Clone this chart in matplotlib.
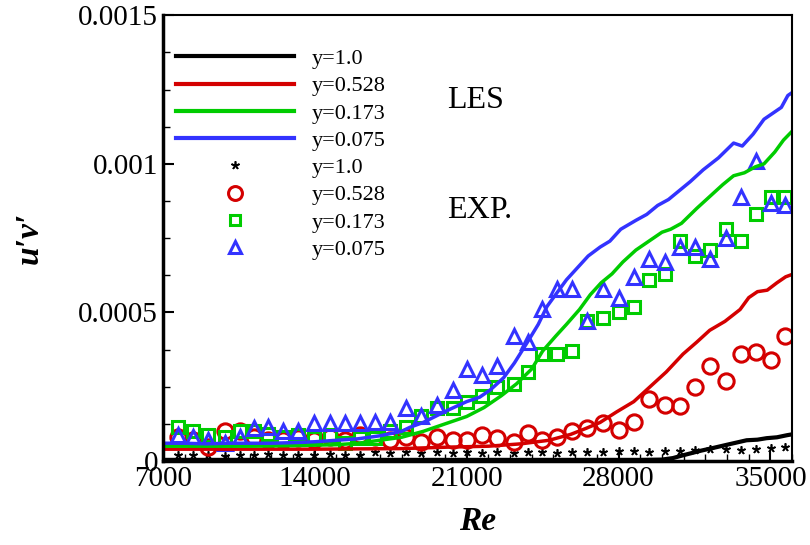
import numpy as np
import matplotlib
matplotlib.use("Agg")
import matplotlib.pyplot as plt
from matplotlib.lines import Line2D
from matplotlib.ticker import MultipleLocator

plt.rcParams['font.family'] = ['Liberation Serif', 'DejaVu Serif']

# LES curves
re_blk = [7000, 12000, 18000, 24000, 29000, 30000, 30500, 31000, 31800, 32350, 33000, 33900, 34400, 34820, 35300, 35760, 36000]
les_blk = [0.000004, 0.000004, 0.000004, 0.000004, 0.000004, 0.000005, 0.00001, 0.00002, 0.000035, 0.000044,
           0.000055, 0.00007, 0.000072, 0.000077, 0.00008, 0.000087, 0.00009]

re_red = [7000, 10000, 14000, 18000, 20200, 22000, 23500, 24800, 25800, 26500, 27150, 27900, 28700, 29450,
          30200, 30970, 31600, 32200, 32900, 33600, 34000, 34400, 34850, 35300, 35700, 36000]
les_red = [0.00004, 0.00004, 0.00004, 0.000042, 0.000047, 0.00005, 0.000058, 0.00007, 0.00009, 0.00011,
           0.00013, 0.000165, 0.0002, 0.00025, 0.0003, 0.00036, 0.0004, 0.00044, 0.00047, 0.00051, 0.00055,
           0.00057, 0.000575, 0.0006, 0.00062, 0.000628]

re_grn = [7000, 9000, 11000, 13000, 15000, 16000, 17000, 18000, 19000, 20200, 21000, 21800, 22600, 23300,
          24000, 24500, 25100, 25600, 26200, 26700, 27200, 27700, 28200, 28800, 29400, 30000, 30400, 30900,
          31600, 32200, 32800, 33300, 33800, 34300, 34700, 35200, 35600, 36000]
les_grn = [0.00005, 0.00005, 0.00005, 0.000052, 0.000055, 0.00006, 0.00007, 0.00008, 0.0001, 0.00013,
           0.00015, 0.00018, 0.00022, 0.00026, 0.00031, 0.00037, 0.00042, 0.00046, 0.00051, 0.00056, 0.0006,
           0.00063, 0.00067, 0.00071, 0.00074, 0.00077, 0.00078, 0.0008, 0.00085, 0.00089, 0.00093, 0.00096,
           0.00097, 0.00099, 0.001, 0.00104, 0.00108, 0.00111]

re_blu = [7000, 8000, 9000, 10000, 11000, 12000, 13000, 14000, 15000, 16000, 17000, 18000, 18400, 19000,
          20100, 21000, 21600, 22100, 22700, 23200, 23800, 24300, 24700, 25200, 25600, 26100, 26600, 27150,
          27600, 28100, 28800, 29300, 29800, 30300, 30800, 31300, 31900, 32600, 33300, 33700, 34200, 34700,
          35100, 35500, 35800, 36000]
les_blu = [0.00006, 0.00006, 0.000058, 0.00006, 0.00006, 0.00006, 0.000062, 0.000065, 0.00007, 0.000075,
           0.000085, 0.0001, 0.000114, 0.00013, 0.00017, 0.0002, 0.000215, 0.00024, 0.00028, 0.00033, 0.0004,
           0.00046, 0.00052, 0.00057, 0.00061, 0.00065, 0.00069, 0.00072, 0.00074, 0.00078, 0.00081, 0.00083,
           0.00086, 0.00088, 0.00091, 0.00094, 0.00098, 0.00102, 0.00107, 0.00106, 0.0011, 0.00115, 0.00117,
           0.00119, 0.00123, 0.00124]

# experiments
re_exp = [7700, 8380, 9070, 9860, 10550, 11200, 11840, 12550, 13220, 13950, 14700, 15390, 16080, 16770,
          17470, 18200, 18900, 19650, 20350, 21010, 21730, 22400, 23160, 23830, 24480, 25160, 25850, 26550,
          27270, 28030, 28700, 29400, 30150, 30830, 31500, 32230, 32950, 33650, 34330, 35030, 35650]
exp_blk = [0.00002, 0.000022, 0.00002, 0.000018, 0.000022, 0.00002, 0.000024, 0.00002, 0.000022, 0.00002,
           0.000024, 0.00002, 0.000022, 0.00003, 0.000028, 0.00003, 0.000028, 0.00003, 0.000026, 0.00003,
           0.000028, 0.00003, 0.000026, 0.00003, 0.00003, 0.000028, 0.00003, 0.000032, 0.00003, 0.000033,
           0.000034, 0.000032, 0.000035, 0.000033, 0.000036, 0.00004, 0.00004, 0.000038, 0.000042, 0.000045,
           0.000048]
exp_red = [0.00008, 0.00007, 0.000047, 0.0001, 0.0001, 0.00008, 0.00007, 0.00007, 0.000077, 0.00007,
           0.00008, 0.00007, 0.000087, 0.00008, 0.00007, 0.00008, 0.000064, 0.00008, 0.00007, 0.00007,
           0.000087, 0.000077, 0.000064, 0.000094, 0.00007, 0.00008, 0.0001, 0.00011, 0.000128, 0.000104,
           0.00013, 0.00021, 0.00019, 0.000185, 0.00025, 0.00032, 0.00027, 0.00036, 0.000367, 0.00034, 0.00042]
exp_grn = [0.000115, 0.0001, 0.000087, 0.00008, 0.0001, 0.0001, 0.00009, 0.00008, 0.000087, 0.000077,
           0.000087, 0.00006, 0.000077, 0.000077, 0.0001, 0.000114, 0.00015, 0.00018, 0.00018, 0.0002,
           0.00022, 0.00025, 0.00026, 0.0003, 0.00036, 0.00036, 0.00037, 0.00047, 0.00048, 0.0005, 0.00052,
           0.00061, 0.00063, 0.00074, 0.00069, 0.00071, 0.00078, 0.00074, 0.00083, 0.00089, 0.00089]
exp_blu = [0.000087, 0.00008, 0.00007, 0.00006, 0.00008, 0.00011, 0.000114, 0.0001, 0.0001, 0.000128,
           0.000128, 0.000128, 0.000128, 0.00013, 0.00013, 0.00018, 0.00015, 0.00019, 0.00024, 0.00031,
           0.00029, 0.00032, 0.00042, 0.0004, 0.00051, 0.00058, 0.00058, 0.00047, 0.00058, 0.00055, 0.00062,
           0.00068, 0.00067, 0.00072, 0.00072, 0.00068, 0.00075, 0.00089, 0.00101, 0.00087, 0.00086]

labels = ['y=1.0', 'y=0.528', 'y=0.173', 'y=0.075']
colors = ['black', '#d40000', '#00cc00', '#3333ff']
xticks = [7000, 14000, 21000, 28000, 35000]
yticks = [0, 0.0005, 0.001, 0.0015]
yticklabels = ['0', '0.0005', '0.001', '0.0015']

fig = plt.figure(figsize=(8.1, 5.45), dpi=100)
ax = fig.add_axes([0.201, 0.154, 0.777, 0.818])

# experiments
ax.plot(re_exp, exp_blk, ls='none', marker=(5, 2, 0), ms=6, mew=1.2, color='black', clip_on=False)
ax.plot(re_exp, exp_red, ls='none', marker='o', ms=11, mew=2.2, mfc='none', mec=colors[1])
ax.plot(re_exp, exp_grn, ls='none', marker='s', ms=8, mew=2.2, mfc='none', mec=colors[2])
ax.plot(re_exp, exp_blu, ls='none', marker='^', ms=10, mew=2.2, mfc='none', mec=colors[3])

# LES
ax.plot(re_blk, les_blk, color='black', lw=3)
ax.plot(re_red, les_red, color=colors[1], lw=2.5)
ax.plot(re_grn, les_grn, color=colors[2], lw=2.5)
ax.plot(re_blu, les_blu, color=colors[3], lw=2.5)

ax.set_xlim(7000, 36000)
ax.set_ylim(0, 0.0015)
ax.set_xticks(xticks)
ax.set_xticklabels([str(t) for t in xticks])
ax.xaxis.set_minor_locator(MultipleLocator(1000))
ax.set_yticks(yticks)
ax.set_yticklabels(yticklabels)
ax.yaxis.set_minor_locator(MultipleLocator(0.000125))
ax.tick_params(which='both', direction='in', labelsize=21, top=False, right=False)
ax.tick_params(which='major', length=8, width=1.5)
ax.tick_params(which='minor', length=5, width=1)
for s in ['left', 'bottom']:
    ax.spines[s].set_linewidth(2.5)
for s in ['top', 'right']:
    ax.spines[s].set_linewidth(1.5)

ax.set_xlabel('Re', fontsize=24, fontweight='bold', style='italic', labelpad=10)
ax.set_ylabel('u\u2032v\u2032', fontsize=24, fontweight='bold', style='italic', labelpad=24)

ax.text(0.452, 0.809, 'LES', transform=ax.transAxes, fontsize=23, va='center')
ax.text(0.452, 0.563, 'EXP.', transform=ax.transAxes, fontsize=23, va='center')

handles = [Line2D([], [], color=c, lw=3) for c in colors]
handles += [Line2D([], [], ls='none', marker=(5, 2, 0), ms=6, mew=1.2, color='black'),
            Line2D([], [], ls='none', marker='o', ms=10, mew=2.2, mfc='none', mec=colors[1]),
            Line2D([], [], ls='none', marker='s', ms=7, mew=2.2, mfc='none', mec=colors[2]),
            Line2D([], [], ls='none', marker='^', ms=9, mew=2.2, mfc='none', mec=colors[3])]
ax.legend(handles, labels + labels, loc='upper left', bbox_to_anchor=(-0.011, 0.97), frameon=False,
          fontsize=16, handlelength=5.3, handletextpad=0.8, labelspacing=0.3, borderaxespad=0.5)

fig.savefig('out.png', dpi=100)
